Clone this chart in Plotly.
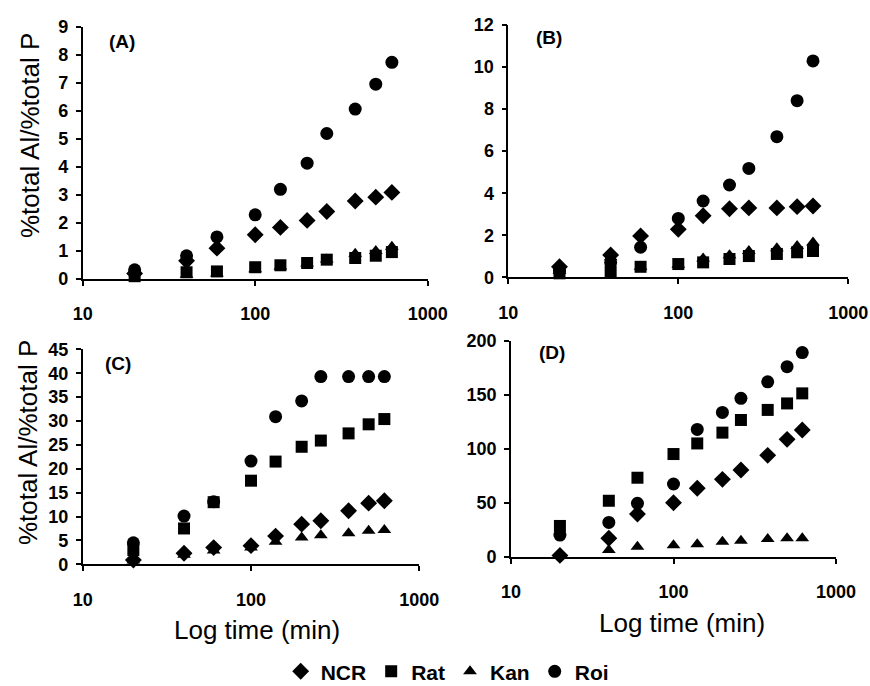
import plotly.graph_objects as go

# ---------------- data ----------------
time_min = [20, 40, 60, 100, 140, 200, 260, 380, 500, 620]

# Panel A
A_NCR = [0.20, 0.65, 1.10, 1.58, 1.84, 2.09, 2.41, 2.78, 2.92, 3.09]
A_Rat = [0.10, 0.24, 0.27, 0.42, 0.49, 0.57, 0.69, 0.75, 0.83, 0.96]
A_Kan = [0.05, 0.15, 0.20, 0.35, 0.45, 0.55, 0.70, 0.90, 1.00, 1.15]
A_Roi = [0.33, 0.83, 1.50, 2.29, 3.20, 4.13, 5.19, 6.06, 6.95, 7.73]

# Panel B
B_NCR = [0.50, 1.06, 1.97, 2.28, 2.93, 3.26, 3.30, 3.30, 3.36, 3.39]
B_Rat = [0.19, 0.27, 0.50, 0.63, 0.71, 0.87, 1.01, 1.11, 1.19, 1.25]
B_Kan = [0.30, 0.95, 0.50, 0.60, 0.90, 1.05, 1.25, 1.38, 1.49, 1.66]
B_Roi = [0.30, 0.70, 1.43, 2.80, 3.63, 4.39, 5.18, 6.69, 8.40, 10.29]

# Panel C
C_NCR = [0.9, 2.3, 3.5, 3.9, 5.9, 8.4, 9.1, 11.2, 12.8, 13.3]
C_Rat = [3.0, 7.5, 13.0, 17.5, 21.5, 24.6, 25.9, 27.4, 29.3, 30.4]
C_Kan = [0.8, 2.0, 2.9, 3.5, 4.7, 5.6, 6.1, 6.5, 7.0, 7.2]
C_Roi = [4.5, 10.1, 13.1, 21.6, 30.9, 34.2, 39.3, 39.3, 39.3, 39.3]

# Panel D
D_NCR = [1.5, 17.3, 39.8, 50.2, 63.5, 71.8, 80.4, 94.0, 108.8, 117.4]
D_Rat = [28.7, 52.0, 73.3, 95.2, 105.0, 115.0, 126.7, 136.0, 142.0, 151.3]
D_Kan = [2.0, 6.5, 9.5, 10.8, 11.7, 14.2, 15.1, 16.6, 17.3, 17.3]
D_Roi = [20.3, 32.0, 49.6, 67.5, 118.0, 133.7, 146.7, 162.0, 176.0, 189.0]

series_names = ["NCR", "Rat", "Kan", "Roi"]
panel_labels = ["(A)", "(B)", "(C)", "(D)"]
y_max = [9, 12, 45, 200]
y_dtick = [1, 2, 5, 50]
x_ticks = [10, 100, 1000]
y_title = "%total Al/%total P"
x_title = "Log time (min)"

panels = [
    {"NCR": A_NCR, "Rat": A_Rat, "Kan": A_Kan, "Roi": A_Roi},
    {"NCR": B_NCR, "Rat": B_Rat, "Kan": B_Kan, "Roi": B_Roi},
    {"NCR": C_NCR, "Rat": C_Rat, "Kan": C_Kan, "Roi": C_Roi},
    {"NCR": D_NCR, "Rat": D_Rat, "Kan": D_Kan, "Roi": D_Roi},
]

# ---------------- style ----------------
W, H = 870, 686
FONT = "Arial, 'Liberation Sans', sans-serif"
symbols = {"NCR": "diamond", "Rat": "square", "Kan": "triangle-up", "Roi": "circle"}
msize = {"NCR": 13, "Rat": 12, "Kan": 12, "Roi": 13}
rank = {"NCR": 1, "Rat": 2, "Kan": 3, "Roi": 4}
draw_order = ["NCR", "Kan", "Roi", "Rat"]

# pixel boxes (left, right, top, bottom) for each plot area
boxes = [
    (82.7, 427.7, 26.7, 279.0),
    (508.3, 848.3, 25.0, 277.3),
    (82.7, 419.3, 349.3, 564.3),
    (511.0, 836.0, 340.7, 557.0),
]

fig = go.Figure()
layout = {}
for i, (data, box) in enumerate(zip(panels, boxes)):
    n = "" if i == 0 else str(i + 1)
    xa, ya = "x" + n, "y" + n
    l, r, t, b = box
    yvals = list(range(0, y_max[i] + 1, y_dtick[i]))
    layout["xaxis" + n] = dict(
        domain=[l / W, r / W], anchor=ya, type="log", range=[1, 3],
        tickvals=x_ticks, ticktext=["<b>%d</b>" % v for v in x_ticks],
        showline=True, linecolor="black", linewidth=1.6,
        ticks="outside", ticklen=5, tickwidth=1.6, tickcolor="black",
        showgrid=False, zeroline=False, ticklabelstandoff=13,
        tickfont=dict(family=FONT, size=18, color="black"),
    )
    layout["yaxis" + n] = dict(
        domain=[1 - b / H, 1 - t / H], anchor=xa, range=[0, y_max[i]],
        tickvals=yvals, ticktext=["<b>%d</b>" % v for v in yvals],
        showline=True, linecolor="black", linewidth=1.6,
        ticks="outside", ticklen=5, tickwidth=1.6, tickcolor="black",
        showgrid=False, zeroline=False, ticklabelstandoff=4,
        tickfont=dict(family=FONT, size=18, color="black"),
    )
    for s in draw_order:
        fig.add_trace(go.Scatter(
            x=time_min, y=data[s], mode="markers", name="<b>%s</b>" % s,
            xaxis=xa, yaxis=ya, showlegend=(i == 0), legendrank=rank[s],
            marker=dict(symbol=symbols[s], size=msize[s], color="black",
                        line=dict(width=0)),
            cliponaxis=False,
        ))

annotations = []
label_pos = [(122, 41), (549, 37), (118, 363), (552, 352)]
for lab, (px, py) in zip(panel_labels, label_pos):
    annotations.append(dict(
        text="<b>%s</b>" % lab, x=px / W, y=1 - py / H, xref="paper", yref="paper",
        xanchor="center", yanchor="middle", showarrow=False,
        font=dict(family=FONT, size=19, color="black")))

for (px, py) in [(30, 136), (28, 443)]:
    annotations.append(dict(
        text=y_title, x=px / W, y=1 - py / H, xref="paper", yref="paper",
        xanchor="center", yanchor="middle", textangle=-90, showarrow=False,
        font=dict(family=FONT, size=26, color="black")))

for (px, py) in [(257, 630), (682, 623)]:
    annotations.append(dict(
        text=x_title, x=px / W, y=1 - py / H, xref="paper", yref="paper",
        xanchor="center", yanchor="middle", showarrow=False,
        font=dict(family=FONT, size=26, color="black")))

fig.update_layout(
    width=W, height=H, margin=dict(l=0, r=0, t=0, b=0, autoexpand=False),
    paper_bgcolor="white", plot_bgcolor="white",
    showlegend=True,
    legend=dict(orientation="h", x=0.514, xanchor="center",
                y=-0.009, yanchor="bottom", itemwidth=30,
                font=dict(family=FONT, size=21, color="black"),
                bgcolor="rgba(0,0,0,0)", itemsizing="trace", tracegroupgap=0),
    annotations=annotations,
    **layout,
)

fig.write_html("out.html")
